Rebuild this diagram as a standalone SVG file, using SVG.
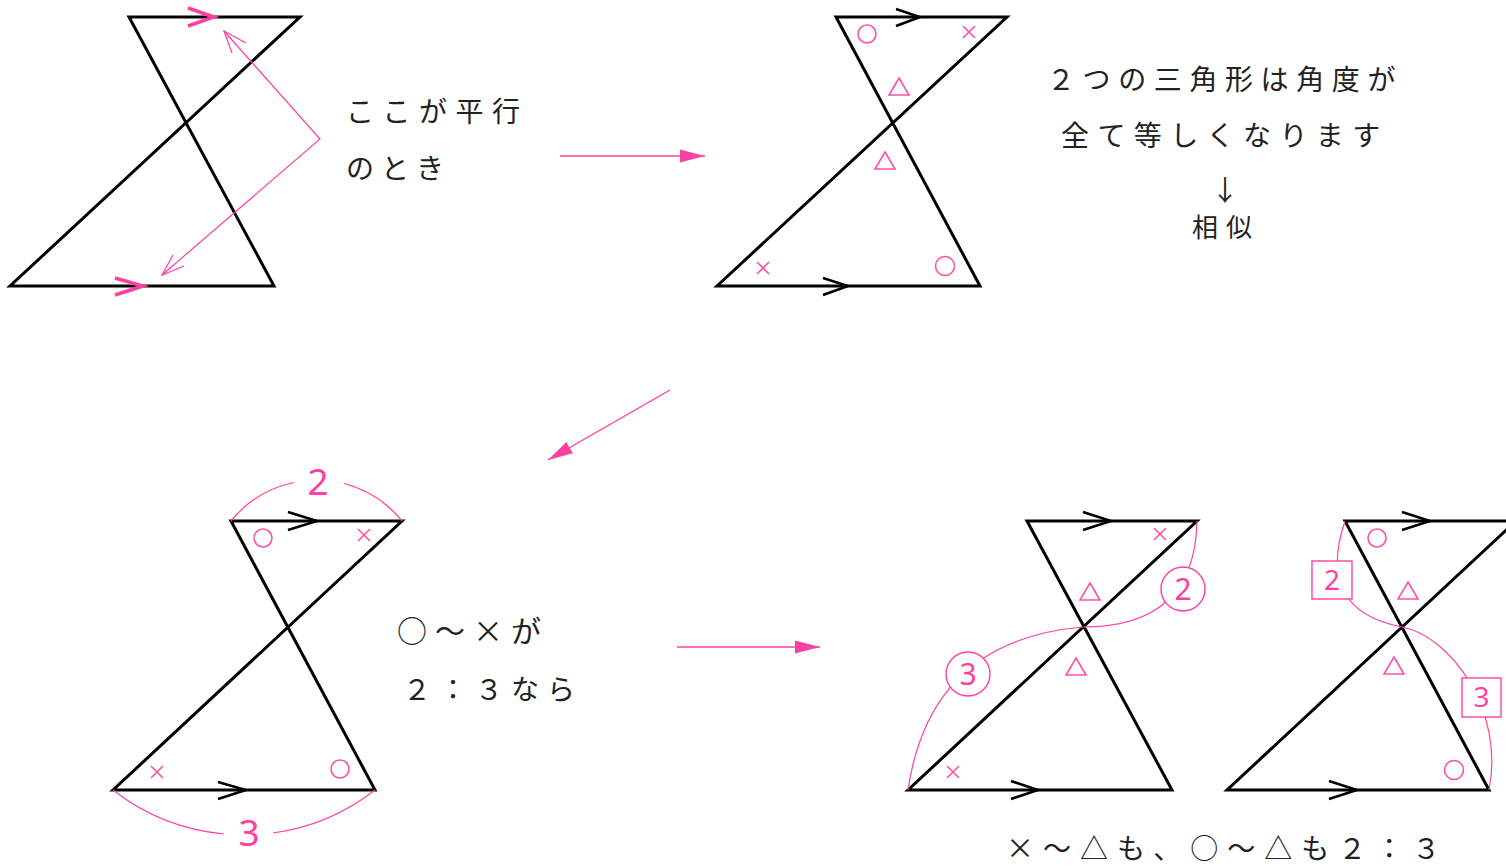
<svg xmlns="http://www.w3.org/2000/svg" width="1506" height="866" viewBox="0 0 1506 866">
<defs>
<marker id="ah" markerUnits="userSpaceOnUse" markerWidth="26" markerHeight="14" refX="25" refY="7" orient="auto">
<path d="M0,0.5 L25,7 L0,13.5 Z" fill="#ff40a0"/>
</marker>
</defs>
<style>
.fig{fill:none;stroke:#000;stroke-width:3;stroke-linejoin:miter}
.chev{fill:none;stroke:#000;stroke-width:2.5}
.pchev{fill:none;stroke:#ff40a0;stroke-width:3.5}
.sym{fill:none;stroke:#ff50a8;stroke-width:1.6}
.thin{fill:none;stroke:#ff40a0;stroke-width:1.2}
.conn{fill:none;stroke:#ff40a0;stroke-width:1.4}
.lbl{fill:#fff;stroke:#ff40a0;stroke-width:1.4}
.t{font-family:"Noto Sans CJK JP","Noto Sans",sans-serif;font-size:28px;fill:#222}
.pn{font-family:"Noto Sans","Liberation Sans",sans-serif;fill:#ff40a0;text-anchor:middle}
</style>
<rect width="1506" height="866" fill="#fff"/>

<g id="fig1">
<path class="fig" d="M129,17 L300,17 L10,286 L274,286 Z"/>
<path class="pchev" d="M188,8 L214,17 L188,26"/>
<path class="pchev" d="M115,278 L143,286 L115,295"/>
<path class="thin" d="M224,31 L320,139 L162,275"/>
<path class="thin" d="M232,53 L224,31 L246,43"/>
<path class="thin" d="M173,255 L162,275 L184,266"/>
<text class="t" x="346" y="122" letter-spacing="8.5">ここが平行</text>
<text class="t" x="346" y="179" letter-spacing="7">のとき</text>
</g>

<g id="fig2">
<path class="fig" d="M836,17 L1007,17 L717,286 L980,286 Z"/>
<path class="chev" d="M896,9 L920,17 L896,26"/>
<path class="chev" d="M823,278 L848,286 L823,295"/>
<circle class="sym" cx="867" cy="34" r="9"/>
<path class="sym" d="M963,26 L975,38 M975,26 L963,38"/>
<path class="sym" d="M899,78 L909,95 L889,95 Z"/>
<path class="sym" d="M885,152 L895,169 L875,169 Z"/>
<path class="sym" d="M757,262 L769,274 M769,262 L757,274"/>
<circle class="sym" cx="945" cy="266" r="9.5"/>
</g>

<g id="note1">
<text class="t" x="1047" y="90" letter-spacing="7.6">２つの三角形は角度が</text>
<text class="t" x="1061" y="146" letter-spacing="8.4">全て等しくなります</text>
<text class="t" x="1225" y="201" text-anchor="middle">↓</text>
<text class="t" x="1192" y="237" font-size="26" letter-spacing="8" style="font-size:26px">相似</text>
</g>

<g id="fig3">
<path class="fig" d="M231,521 L402,521 L113,790 L375,790 Z"/>
<path class="chev" d="M288,512 L317,521 L288,530"/>
<path class="chev" d="M218,782 L246,790 L218,799"/>
<circle class="sym" cx="263" cy="538" r="9"/>
<path class="sym" d="M358,529 L370,541 M370,529 L358,541"/>
<path class="sym" d="M151,766 L163,778 M163,766 L151,778"/>
<circle class="sym" cx="340" cy="769" r="9"/>
<path class="thin" d="M231,521 A110,110 0 0 1 294,482.5 M344,483.5 A110,110 0 0 1 402,521"/>
<path class="thin" d="M113,790 A213,213 0 0 0 224,834 M273,833 A213,213 0 0 0 375,790"/>
<text class="pn" x="318" y="495" font-size="37">2</text>
<text class="pn" x="249" y="846" font-size="37">3</text>
<text class="t" x="397" y="642" letter-spacing="8" style="font-size:30px">○～×が</text>
<text class="t" x="403" y="700" letter-spacing="8">２：３なら</text>
</g>

<g id="fig4">
<path class="fig" d="M1027,521 L1197,521 L908,790 L1172,790 Z"/>
<path class="chev" d="M1083,512 L1111,521 L1083,530"/>
<path class="chev" d="M1011,781 L1038,790 L1011,799"/>
<path class="sym" d="M1154,528 L1166,540 M1166,528 L1154,540"/>
<path class="sym" d="M1090,583 L1100,600 L1080,600 Z"/>
<path class="sym" d="M1076,658 L1086,675 L1066,675 Z"/>
<path class="sym" d="M947,766 L959,778 M959,766 L947,778"/>
<path class="thin" d="M1197,521 Q1195,627 1083,627 Q930,640 908,790"/>
<circle class="lbl" cx="1183" cy="589" r="22" stroke-width="2"/>
<circle class="lbl" cx="968" cy="674" r="22" stroke-width="2"/>
<text class="pn" x="1183" y="600" font-size="30">2</text>
<text class="pn" x="968" y="685" font-size="30">3</text>
</g>

<g id="fig5">
<path class="fig" d="M1345,521 L1516,521 L1227,790 L1489,790 Z"/>
<path class="chev" d="M1402,512 L1430,521 L1402,530"/>
<path class="chev" d="M1329,781 L1357,790 L1329,799"/>
<circle class="sym" cx="1377" cy="538" r="9"/>
<path class="sym" d="M1408,582 L1418,599 L1398,599 Z"/>
<path class="sym" d="M1394,657 L1404,674 L1384,674 Z"/>
<circle class="sym" cx="1454" cy="770" r="9.5"/>
<path class="thin" d="M1345,521 Q1315,610 1402,627 C1450,636 1505,710 1489,790"/>
<rect class="lbl" x="1312" y="561" width="40" height="38"/>
<rect class="lbl" x="1462" y="678" width="39" height="39"/>
<text class="pn" x="1332" y="590" font-size="28">2</text>
<text class="pn" x="1481.5" y="707" font-size="28">3</text>
</g>

<g id="note2">
<text class="t" x="1006" y="859" letter-spacing="9">×～△も、○～△も２：３</text>
</g>

<g id="connectors">
<path class="conn" d="M560,156 L705,156" marker-end="url(#ah)"/>
<path class="conn" d="M670,390 L548,460" marker-end="url(#ah)"/>
<path class="conn" d="M677,647 L820,647" marker-end="url(#ah)"/>
</g>
</svg>
